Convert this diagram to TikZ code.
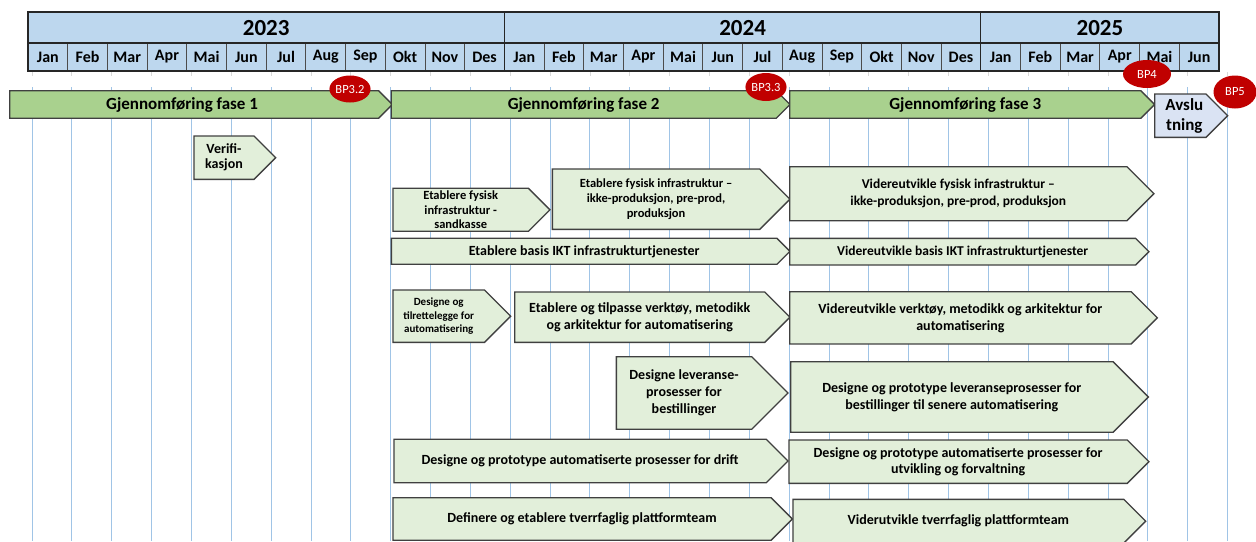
\documentclass[tikz,border=0pt]{standalone}
\usepackage{fontspec}
\setmainfont{Carlito}
\usetikzlibrary{shapes.geometric, shapes.symbols}
\definecolor{HeadBlue}{RGB}{189, 215, 238}
\definecolor{GridBlue}{RGB}{160, 196, 230}
\definecolor{PhaseGreen}{RGB}{169, 209, 142}
\definecolor{TaskGreen}{RGB}{226, 239, 218}
\definecolor{EndBlue}{RGB}{218, 227, 243}
\definecolor{BPRed}{RGB}{192, 0, 0}
\definecolor{EdgeGray}{RGB}{64, 64, 64}

\begin{document}
\begin{tikzpicture}[
        x=1pt, y=-1pt,
        gridline/.style={draw=GridBlue, line width=0.9pt},
        headline/.style={draw=black!85, line width=1.3pt},
        month/.style={font=\fontsize{16}{18}\selectfont\bfseries},
        year/.style={font=\fontsize{23}{26}\selectfont\bfseries},
        bar/.style={signal, signal to=east, signal pointer angle=90, anchor=west, draw=EdgeGray, line width=1.3pt, inner sep=1pt, align=center},
        phase/.style={bar, fill=PhaseGreen, font=\fontsize{17}{19}\selectfont\bfseries},
        task/.style={bar, fill=TaskGreen, font=\fontsize{14}{17}\selectfont\bfseries},
        smalltask/.style={task, font=\fontsize{12.5}{14.5}\selectfont\bfseries},
        milestone/.style={ellipse, fill=BPRed, text=white, inner sep=0pt, font=\fontsize{12.5}{14}\selectfont}
    ]
    \useasboundingbox (0,0) rectangle (1256,541);

    % month grid
    \foreach \k in {0,...,30} {
        \draw[gridline] ({32+39.85*\k},87) -- ({32+39.85*\k},541);
        \draw[draw=black!15, line width=0.8pt] ({32+39.85*\k},72) -- ({32+39.85*\k},76);
    }

    % header
    \fill[HeadBlue] (28,12) rectangle (1219,71);
    \foreach \m [count=\i from 0] in {Jan,Feb,Mar,Apr,Mai,Jun,Jul,Aug,Sep,Okt,Nov,Des,Jan,Feb,Mar,Apr,Mai,Jun,Jul,Aug,Sep,Okt,Nov,Des,Jan,Feb,Mar,Apr,Mai,Jun} {
        \draw[draw=black!70, line width=1pt] ({28+39.7*\i},43) -- ({28+39.7*\i},71);
        \node[month] (m\i) at ({47.85+39.7*\i},57) {\m};
    }
    \draw[headline] (28,43) -- (1219,43);
    \draw[headline] (504.4,12) -- (504.4,71);
    \draw[headline] (980.8,12) -- (980.8,71);
    \draw[headline] (28,12) rectangle (1219,71);
    \draw[draw=black!85, line width=2pt] (28,71) -- (1219,71);
    \node[year] (y2023) at (266.2,28) {2023};
    \node[year] (y2024) at (742.6,28) {2024};
    \node[year] (y2025) at (1099.9,28) {2025};

    % phases
    \node[phase, minimum width=382.7pt, minimum height=27.6pt] (fase1) at (9,104.5) {Gjennomføring fase 1\hspace*{24pt}};
    \node[phase, minimum width=398.8pt, minimum height=27.6pt] (fase2) at (390.5,104.5) {Gjennomføring fase 2};
    \node[phase, minimum width=365pt, minimum height=27.6pt] (fase3) at (789,104.5) {Gjennomføring fase 3};
    \node[phase, fill=EndBlue, minimum width=73pt, minimum height=43.3pt, font=\fontsize{17}{20}\selectfont\bfseries] (avslutning) at (1154,115.7) {\hspace*{8pt}Avslu\\\hspace*{8pt}tning};

    % tasks 2023-2024
    \node[task, minimum width=81.7pt, minimum height=43.3pt, font=\fontsize{14}{15}\selectfont\bfseries] (verif) at (193.3,157.7) {Verifi-\\kasjon};
    \node[smalltask, minimum width=157pt, minimum height=43pt] (sandkasse) at (392.3,209.8) {Etablere fysisk\\infrastruktur -\\sandkasse};
    \node[smalltask, minimum width=237.6pt, minimum height=60.3pt, font=\fontsize{12.5}{15}\selectfont\bfseries] (fysisk1) at (551.7,199.2) {Etablere fysisk infrastruktur –\\ikke-produksjon, pre-prod,\\produksjon};
    \node[task, minimum width=398.6pt, minimum height=26pt] (basis1) at (390.7,251.3) {Etablere basis IKT infrastrukturtjenester};
    \node[task, minimum width=117.7pt, minimum height=52.3pt, font=\fontsize{11}{13.3}\selectfont\bfseries] (tilrette) at (392.3,316.2) {Designe og\\tilrettelegge for\\automatisering};
    \node[task, minimum width=275.3pt, minimum height=50.3pt, font=\fontsize{14}{17.5}\selectfont\bfseries] (verktoy1) at (514,317.2) {Etablere og tilpasse verktøy, metodikk\\og arkitektur for automatisering};
    \node[task, minimum width=171.6pt, minimum height=72.6pt] (leveranse1) at (615.7,393) {Designe leveranse-\\prosesser for\\bestillinger};
    \node[task, minimum width=394pt, minimum height=43.4pt] (drift) at (393.3,461) {Designe og prototype automatiserte prosesser for drift};
    \node[task, minimum width=399.4pt, minimum height=42.6pt] (plattform1) at (392.3,519) {Definere og etablere tverrfaglig plattformteam};

    % tasks 2024-2025
    \node[task, minimum width=364.3pt, minimum height=54pt, font=\fontsize{13.5}{16.7}\selectfont\bfseries] (fysisk2) at (789,193.7) {Videreutvikle fysisk infrastruktur –\\ikke-produksjon, pre-prod, produksjon};
    \node[task, minimum width=359.3pt, minimum height=26.7pt, font=\fontsize{13.5}{16}\selectfont\bfseries] (basis2) at (789,251.7) {Videreutvikle basis IKT infrastrukturtjenester};
    \node[task, minimum width=367.7pt, minimum height=52.3pt] (verktoy2) at (789,317.8) {Videreutvikle verktøy, metodikk og arkitektur for\\automatisering};
    \node[task, minimum width=357.7pt, minimum height=70.6pt, font=\fontsize{14}{16.7}\selectfont\bfseries] (leveranse2) at (790,397) {Designe og prototype leveranseprosesser for\\bestillinger til senere automatisering};
    \node[task, minimum width=360pt, minimum height=43.3pt, font=\fontsize{14}{16.7}\selectfont\bfseries] (utvikling) at (788.3,461.7) {Designe og prototype automatiserte prosesser for\\utvikling og forvaltning};
    \node[task, minimum width=352.7pt, minimum height=43.7pt] (plattform2) at (792.3,521.2) {Viderutvikle tverrfaglig plattformteam};

    % milestones
    \node[milestone, minimum width=38pt, minimum height=27pt] (bp32) at (350,89) {BP3.2};
    \node[milestone, minimum width=37pt, minimum height=28pt] (bp33) at (766,87) {BP3.3};
    \node[milestone, minimum width=48pt, minimum height=28pt] (bp4) at (1147,74) {BP4};
    \node[milestone, minimum width=43pt, minimum height=33pt] (bp5) at (1235,92) {BP5};
\end{tikzpicture}
\end{document}
